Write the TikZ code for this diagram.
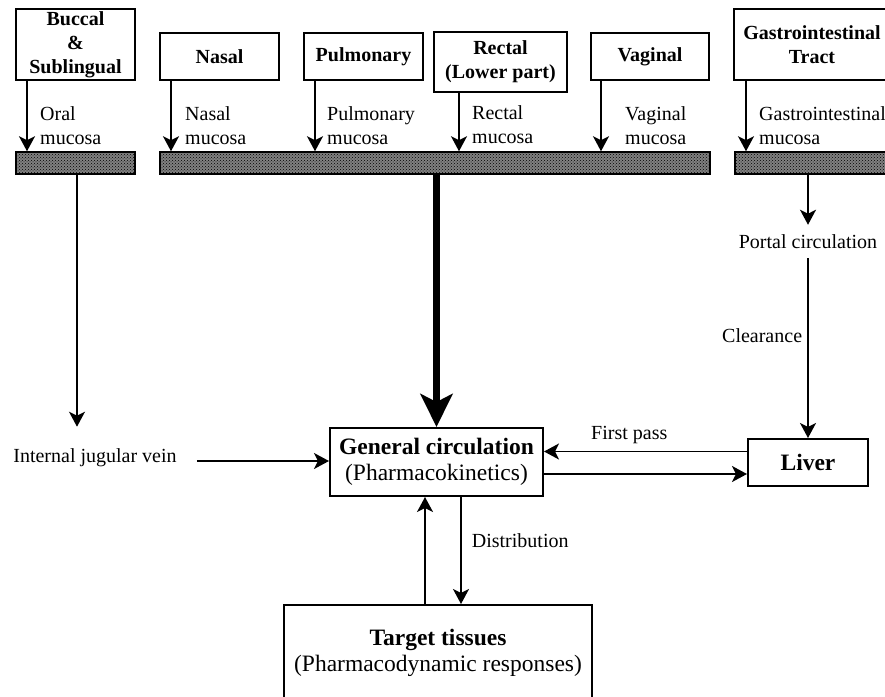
\documentclass[tikz,border=0pt]{standalone}
\usepackage{fontspec}
\setmainfont{Liberation Serif}
\usetikzlibrary{arrows.meta,patterns}
\begin{document}
\begin{tikzpicture}[x=1pt,y=-1pt,
  box/.style={draw, line width=2pt, inner sep=0pt, align=center,
    font=\fontsize{20}{24}\selectfont\bfseries},
  bigbox/.style={draw, line width=2pt, inner sep=0pt, align=center,
    font=\fontsize{23.5}{25.5}\selectfont},
  lbl/.style={inner sep=0pt, align=left, font=\fontsize{20}{24}\selectfont},
  txt/.style={font=\fontsize{20}{24}\selectfont},
  membrane/.style={draw, line width=1.5pt, minimum height=22pt, inner sep=0pt,
    preaction={fill=black!50}, pattern=crosshatch dots, pattern color=black},
  arr/.style={line width=1.8pt, -{Stealth[length=15pt,width=16pt,inset=4pt]}},
  bigarr/.style={line width=7pt, -{Stealth[length=33pt,width=32pt,inset=8pt]}}
]
\useasboundingbox (0,0) rectangle (885,696);
\clip (0,0) rectangle (885,696);

% routes of administration
\node[box, minimum width=119pt, minimum height=71pt] (buccal) at (75.5,44.5) {Buccal\\\&\\Sublingual};
\node[box, minimum width=119pt, minimum height=47pt] (nasal) at (219.5,56.5) {Nasal};
\node[box, minimum width=119pt, minimum height=47pt] (pulm) at (363.5,56.5) {Pulmonary};
\node[box, minimum width=133pt, minimum height=60pt] (rectal) at (500.5,62) {Rectal\\(Lower part)};
\node[box, minimum width=118pt, minimum height=47pt] (vaginal) at (650,56.5) {Vaginal};
\node[box, minimum width=156pt, minimum height=71pt] (gi) at (812,44.5) {Gastrointestinal\\Tract};

% absorbing membranes
\node[membrane, minimum width=119pt] (barL) at (75.5,163) {};
\node[membrane, minimum width=550pt] (barM) at (435,163) {};
\node[membrane, minimum width=160pt] (barR) at (815,163) {};

% mucosa labels
\node[lbl, anchor=north west] (lOral) at (40,106) {Oral\\mucosa};
\node[lbl, anchor=north west] (lNasal) at (185,106) {Nasal\\mucosa};
\node[lbl, anchor=north west] (lPulm) at (327,106) {Pulmonary\\mucosa};
\node[lbl, anchor=north west] (lRect) at (472,105) {Rectal\\mucosa};
\node[lbl, anchor=north west] (lVag) at (625,106) {Vaginal\\mucosa};
\node[lbl, anchor=north west] (lGI) at (759,106) {Gastrointestinal\\mucosa};

% circulation and target
\node[bigbox, minimum width=213pt, minimum height=68pt] (gen) at (436.5,462)
  {\textbf{General circulation}\\(Pharmacokinetics)};
\node[bigbox, minimum width=120pt, minimum height=47pt] (liver) at (808,462.5) {\textbf{Liver}};
\node[bigbox, minimum width=308pt, minimum height=96pt] (target) at (438,653)
  {\textbf{Target tissues}\\(Pharmacodynamic responses)};

\node[txt, inner xsep=20pt, inner ysep=22pt] (jug) at (95,458) {Internal jugular vein};
\node[txt, inner sep=9.5pt] (portal) at (808,241.5) {Portal circulation};

% entry arrows into the membranes
\draw[arr] ([xshift=12pt]buccal.south west) -- ([xshift=12pt]buccal.south west |- barL.north);
\draw[arr] ([xshift=12pt]nasal.south west) -- ([xshift=12pt]nasal.south west |- barM.north);
\draw[arr] ([xshift=12pt]pulm.south west) -- ([xshift=12pt]pulm.south west |- barM.north);
\draw[arr] ([xshift=26pt]rectal.south west) -- ([xshift=26pt]rectal.south west |- barM.north);
\draw[arr] ([xshift=11pt]vaginal.south west) -- ([xshift=11pt]vaginal.south west |- barM.north);
\draw[arr] ([xshift=13pt]gi.south west) -- ([xshift=13pt]gi.south west |- barR.north);

% buccal route via the jugular vein
\coordinate (jugtop) at (77,0);
\draw[arr] (barL.south -| jugtop) -- (jug.north -| jugtop);
\draw[arr] ([yshift=-3pt]jug.east) -- ([yshift=-3pt]jug.east -| gen.west);

% direct route
\draw[bigarr] (barM.south -| gen.north) -- (gen.north);

% gastrointestinal route via the liver
\draw[arr] (barR.south -| liver.north) -- (portal.north -| liver.north);
\draw[arr] (portal.south -| liver.north) -- (liver.north)
  node[txt, pos=0.43, left, inner sep=5pt] (lClear) {Clearance};
\draw[arr] ([yshift=11pt]liver.west) -- ([yshift=11pt]liver.west -| gen.east)
  node[txt, pos=0.58, above, inner sep=7pt] (lFirst) {First pass};
\draw[arr] ([yshift=-12pt]gen.east) -- ([yshift=-12pt]gen.east -| liver.west);

% distribution
\draw[arr] ([xshift=-11.5pt]gen.south |- target.north) -- ([xshift=-11.5pt]gen.south);
\draw[arr] ([xshift=24.5pt]gen.south) -- ([xshift=24.5pt]gen.south |- target.north)
  node[txt, pos=0.41, right, inner sep=10pt] (lDist) {Distribution};
\end{tikzpicture}
\end{document}
